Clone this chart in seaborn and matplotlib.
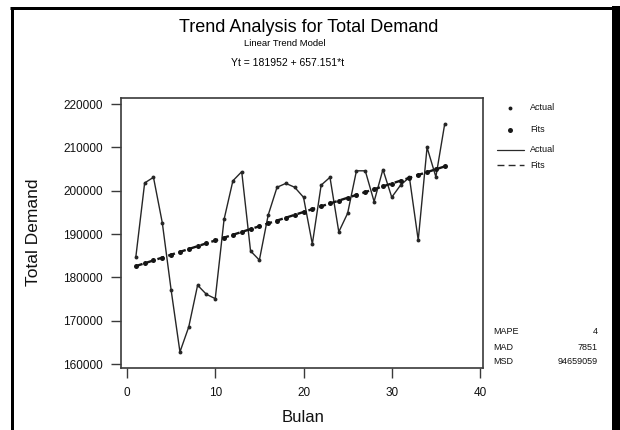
import matplotlib
matplotlib.use("Agg")
import matplotlib.pyplot as plt
import seaborn as sns
import pandas as pd
from matplotlib.lines import Line2D

# ---- data ----
months = list(range(1, 37))
actual = [184700, 201800, 203100, 192600, 177100, 162800, 168600, 178200, 176100, 175100,
          193400, 202300, 204400, 186100, 184000, 194400, 200800, 201700, 200800, 198500,
          187700, 201300, 203100, 190500, 194800, 204600, 204600, 197500, 204900, 198500,
          201300, 203100, 188600, 210000, 203200, 215400]
fits = [182609, 183266, 183923, 184581, 185238, 185895, 186552, 187209, 187866, 188524,
        189181, 189838, 190495, 191152, 191809, 192466, 193124, 193781, 194438, 195095,
        195752, 196409, 197066, 197724, 198381, 199038, 199695, 200352, 201009, 201667,
        202324, 202981, 203638, 204295, 204952, 205609]
x_ticks = [0, 10, 20, 30, 40]
y_ticks = [160000, 170000, 180000, 190000, 200000, 210000, 220000]
legend_labels = ["Actual", "Fits", "Actual", "Fits"]
stat_names = ["MAPE", "MAD", "MSD"]
stat_values = ["4", "7851", "94659059"]

sns.set_theme(style="white")
plt.rcParams['font.family'] = ['Liberation Sans', 'DejaVu Sans']

W, H = 620, 430
fig = plt.figure(figsize=(W / 100, H / 100), dpi=100)
fig.patch.set_facecolor("white")

def fx(px):
    return px / W

def fy(py):
    return 1 - py / H

L, R, T, B = 121, 483, 98, 368
ax = fig.add_axes([fx(L), fy(B), (R - L) / W, (B - T) / H])

df_a = pd.DataFrame({"Bulan": months, "Total Demand": actual})
df_f = pd.DataFrame({"Bulan": months, "Total Demand": fits})

sns.lineplot(data=df_a, x="Bulan", y="Total Demand", ax=ax, color="#262626", lw=1.0,
             marker="o", markersize=2.8, markeredgewidth=0)
sns.lineplot(data=df_f, x="Bulan", y="Total Demand", ax=ax, color="#151515", lw=1.7,
             linestyle=(0, (3, 1.8)), marker="o", markersize=3.6, markeredgewidth=0)

ax.set_xlim(-0.68, 40.34)
ax.set_ylim(159100, 221400)
ax.set_xticks(x_ticks)
ax.set_yticks(y_ticks)
ax.set_xticklabels([str(v) for v in x_ticks])
ax.set_yticklabels([str(v) for v in y_ticks])
ax.set_xlabel("")
ax.set_ylabel("")
ax.tick_params(axis="both", direction="out", length=7, width=1.0, color="#3a3a3a",
               labelsize=8.5, labelcolor="#111111", bottom=True, left=True)
ax.tick_params(axis="y", pad=6)
ax.tick_params(axis="x", pad=7)
for s in ax.spines.values():
    s.set_visible(True)
    s.set_color("#3a3a3a")
    s.set_linewidth(1.2)
ax.grid(False)

# titles
fig.text(fx(309), fy(27), "Trend Analysis for Total Demand", ha="center", va="center",
         fontsize=13, color="#000000")
fig.text(fx(285), fy(44), "Linear Trend Model", ha="center", va="center",
         fontsize=6.8, color="#000000")
fig.text(fx(288), fy(63), "Yt = 181952 + 657.151*t", ha="center", va="center",
         fontsize=7.5, color="#000000")

# axis labels
fig.text(fx(34), fy(232), "Total Demand", rotation=90, ha="center", va="center",
         fontsize=12.5, color="#111111")
fig.text(fx(303), fy(418), "Bulan", ha="center", va="center", fontsize=12, color="#111111")

# legend (manual)
leg_y = [108, 130, 150, 165]
tx = 530
fig.add_artist(Line2D([fx(510)], [fy(leg_y[0])], marker="o", markersize=2.8, color="#1a1a1a",
                      lw=0, mew=0, transform=fig.transFigure))
fig.add_artist(Line2D([fx(510)], [fy(leg_y[1])], marker="o", markersize=3.6, color="#1a1a1a",
                      lw=0, mew=0, transform=fig.transFigure))
fig.add_artist(Line2D([fx(497), fx(524)], [fy(leg_y[2])] * 2, color="#2a2a2a", lw=0.9,
                      transform=fig.transFigure))
fig.add_artist(Line2D([fx(497), fx(524)], [fy(leg_y[3])] * 2, color="#2a2a2a", lw=1.0,
                      linestyle=(0, (5, 3)), transform=fig.transFigure))
for y, lab in zip(leg_y, legend_labels):
    fig.text(fx(tx), fy(y), lab, ha="left", va="center", fontsize=6.5, color="#111111")

# accuracy measures
stat_y = [332, 347, 362]
for y, n, v in zip(stat_y, stat_names, stat_values):
    fig.text(fx(493), fy(y), n, ha="left", va="center", fontsize=6.5, color="#111111")
    fig.text(fx(598), fy(y), v, ha="right", va="center", fontsize=6.5, color="#111111")

# black frame
px2pt = 72 / 100
fig.add_artist(Line2D([fx(11.5), fx(11.5)], [0, fy(7.5)], color="black", lw=3 * px2pt,
                      solid_capstyle="butt", transform=fig.transFigure))
fig.add_artist(Line2D([fx(10), fx(620)], [fy(7.5), fy(7.5)], color="black", lw=3 * px2pt,
                      solid_capstyle="butt", transform=fig.transFigure))
fig.add_artist(Line2D([fx(616), fx(616)], [0, fy(6)], color="black", lw=8 * px2pt,
                      solid_capstyle="butt", transform=fig.transFigure))

fig.savefig("out.png", dpi=100, facecolor="white")
